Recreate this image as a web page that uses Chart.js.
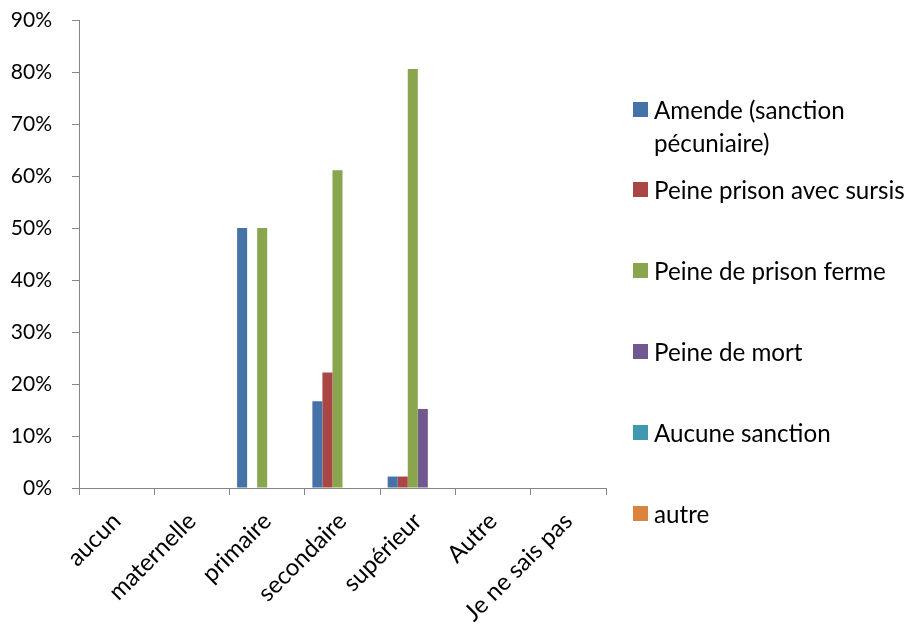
<!DOCTYPE html>
<html>
<head>
<meta charset="utf-8">
<script src="https://cdn.jsdelivr.net/npm/chart.js@4/dist/chart.umd.min.js"></script>
<style>
  html, body { margin: 0; padding: 0; background: #fff; }
  #wrap { position: relative; width: 914px; height: 628px; }
  #legend { position: absolute; left: 633px; top: 93px; font-family: Lato, "Liberation Sans", sans-serif; font-size: 24.2px; color: #000; }
  .item { display: flex; align-items: flex-start; line-height: 33px; }
  .item + .item { margin-top: 48px; }
  .item:nth-child(2) { margin-top: 14px; }
  .box { width: 15px; height: 15px; flex: 0 0 15px; margin-top: 9px; margin-right: 6px; }
  .txt { max-width: 270px; white-space: normal; }
</style>
</head>
<body>
<div id="wrap">
  <canvas id="c" width="914" height="628"></canvas>
  <div id="legend"></div>
</div>
<script>
const categories = ["aucun", "maternelle", "primaire", "secondaire", "supérieur", "Autre", "Je ne sais pas"];
const seriesNames = ["Amende (sanction pécuniaire)", "Peine prison avec sursis", "Peine de prison ferme", "Peine de mort", "Aucune sanction", "autre"];
const amende   = [0, 0, 50, 16.7, 2.2, 0, 0];
const sursis   = [0, 0, 0, 22.2, 2.2, 0, 0];
const ferme    = [0, 0, 50, 61.1, 80.6, 0, 0];
const mort     = [0, 0, 0, 0, 15.2, 0, 0];
const aucune   = [0, 0, 0, 0, 0, 0, 0];
const autre    = [0, 0, 0, 0, 0, 0, 0];
const yTicks = [0, 10, 20, 30, 40, 50, 60, 70, 80, 90];

const colors = ["#4572A7", "#AA4643", "#89A54E", "#71588F", "#4198AF", "#DB843D"];
const seriesValues = [amende, sursis, ferme, mort, aucune, autre];

const axisColor = "#868686";
const yFont = { family: "Lato, 'Liberation Sans', sans-serif", size: 21 };
const xFont = { family: "Lato, 'Liberation Sans', sans-serif", size: 24 };

const chart = new Chart(document.getElementById("c"), {
  type: "bar",
  data: {
    labels: categories,
    datasets: seriesNames.map((n, i) => ({
      label: n,
      data: seriesValues[i],
      backgroundColor: colors[i],
      borderWidth: 0,
      categoryPercentage: 0.8,
      barPercentage: 1.0
    }))
  },
  options: {
    responsive: false,
    animation: false,
    layout: { padding: { top: 20, right: 308, left: 0, bottom: 0 } },
    plugins: { legend: { display: false }, tooltip: { enabled: false } },
    scales: {
      x: {
        grid: { display: true, drawOnChartArea: false, drawTicks: true, tickLength: 7, color: axisColor, offset: true },
        border: { display: true, color: axisColor, width: 1 },
        ticks: { color: "#000", font: xFont, minRotation: 45, maxRotation: 45, padding: 12, autoSkip: false },
        afterFit: (s) => { s.height = 140; s.paddingLeft = 0; s.paddingRight = 0; }
      },
      y: {
        min: 0, max: 90,
        afterBuildTicks: (s) => { s.ticks = yTicks.map(v => ({ value: v })); },
        grid: { display: true, drawOnChartArea: false, drawTicks: true, tickLength: 7, color: axisColor },
        border: { display: true, color: axisColor, width: 1 },
        ticks: { color: "#000", font: yFont, padding: 20, callback: (v) => v + "%" },
        afterFit: (s) => { s.width = 79; s.paddingTop = 0; s.paddingBottom = 0; }
      }
    }
  }
});

const leg = document.getElementById("legend");
chart.data.datasets.forEach((ds) => {
  const it = document.createElement("div");
  it.className = "item";
  const b = document.createElement("div");
  b.className = "box";
  b.style.background = ds.backgroundColor;
  const t = document.createElement("div");
  t.className = "txt";
  t.textContent = ds.label;
  it.appendChild(b); it.appendChild(t);
  leg.appendChild(it);
});
</script>
</body>
</html>
